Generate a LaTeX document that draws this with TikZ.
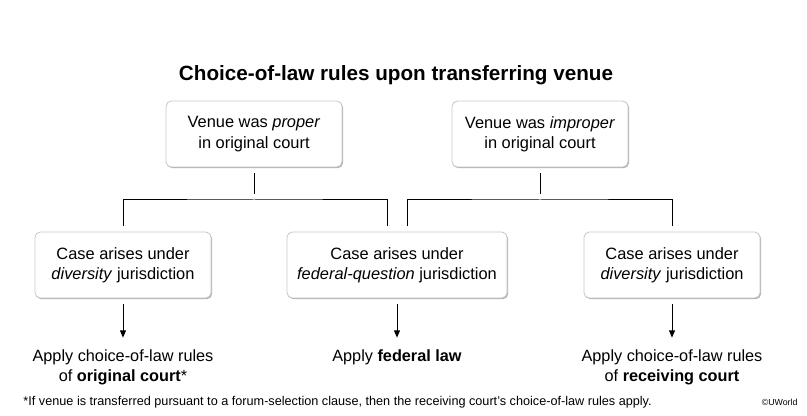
\documentclass[tikz,border=0pt]{standalone}
\usepackage{fontspec}
\setmainfont{Liberation Sans}
\usetikzlibrary{arrows.meta,shadows}

\definecolor{boxline}{RGB}{200,200,200}

\tikzset{every picture/.style={line width=0.75pt}}
\tikzset{
  venuebox/.style={draw=boxline, fill=white, rounded corners=4pt, line width=0.6pt,
    minimum width=132pt, minimum height=49.5pt, align=center, inner sep=0pt,
    font=\fontsize{12.3}{15.2}\selectfont,
    drop shadow={shadow xshift=0.8pt, shadow yshift=-0.9pt, opacity=0.3, fill=black}},
  outcome/.style={align=center, inner sep=0pt, font=\fontsize{12.2}{15}\selectfont},
  link/.style={draw=black, line width=0.75pt, shorten <=4.5pt, shorten >=4.5pt},
  arrow/.style={link, -{Triangle[length=5.5pt,width=4.5pt]}, shorten >=8.5pt}
}

\begin{document}
\begin{tikzpicture}[x=0.75pt,y=0.75pt,yscale=-1,xscale=1]
\useasboundingbox (0,0) rectangle (807,416);

% Title
\node (title) at (396,75) {\fontsize{15.5}{18}\selectfont\bfseries Choice-of-law rules upon transferring venue};

% Venue boxes
\node[venuebox] (proper) at (254,134) {Venue was \textit{proper}\\in original court};
\node[venuebox] (improper) at (540,134) {Venue was \textit{improper}\\in original court};

% Jurisdiction boxes
\node[venuebox] (divL) at (123,265) {Case arises under\\\textit{diversity} jurisdiction};
\node[venuebox, minimum width=165pt] (fedQ) at (397,265) {Case arises under\\\textit{federal-question} jurisdiction};
\node[venuebox] (divR) at (672,265) {Case arises under\\\textit{diversity} jurisdiction};

% Outcomes
\node[outcome, anchor=north] (resL) at (123,349) {Apply choice-of-law rules\\of \textbf{original court}*};
\node[outcome, anchor=north] (resF) at (397,349) {Apply \textbf{federal law}};
\node[outcome, anchor=north] (resR) at (672,349) {Apply choice-of-law rules\\of \textbf{receiving court}};

% Branch points
\coordinate (barP) at (254,200);
\coordinate (barI) at (540,200);

% Connectors
\draw[link] (proper.south) -- (barP);
\draw[link] (divL.north) |- (barP) -| ([xshift=-7.5pt]fedQ.north);
\draw[link] (improper.south) -- (barI);
\draw[link] ([xshift=7.5pt]fedQ.north) |- (barI) -| (divR.north);

% Arrows
\draw[arrow] (divL.south) -- (resL.north);
\draw[arrow] (fedQ.south) -- (resF.north);
\draw[arrow] (divR.south) -- (resR.north);

% Footnote
\node[anchor=base west, inner sep=0pt] (note) at (23,406) {\fontsize{9.5}{11}\selectfont *If venue is transferred pursuant to a forum-selection clause, then the receiving court's choice-of-law rules apply.};
\node[anchor=base east, inner sep=0pt] (mark) at (798,406) {\fontsize{6.6}{8}\selectfont ©UWorld};

\end{tikzpicture}
\end{document}
